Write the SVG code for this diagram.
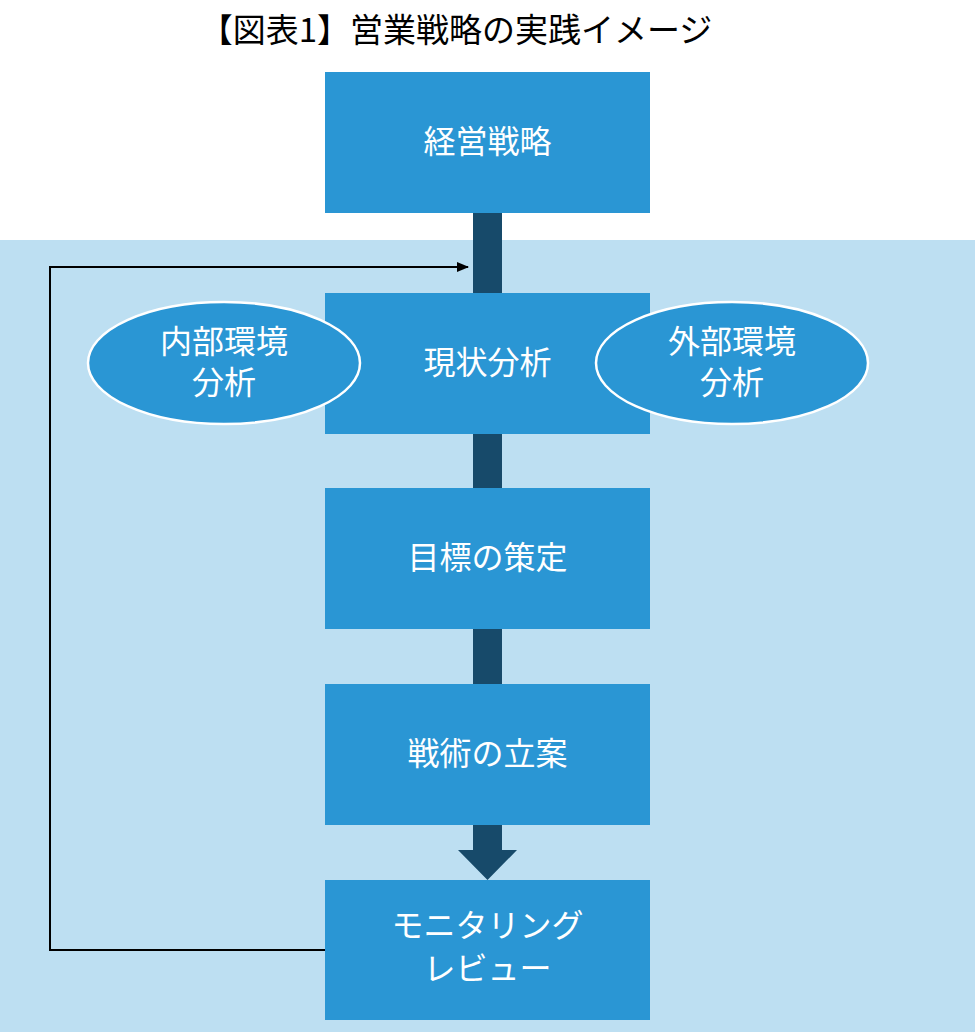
<svg xmlns="http://www.w3.org/2000/svg" width="975" height="1032" viewBox="0 0 975 1032">
<defs>
<style>
.box{fill:#2A96D4}
.bar{fill:#174A6A}
.lbl{font-family:"Noto Sans CJK JP","Noto Sans",sans-serif;font-size:32px;fill:#ffffff;text-anchor:middle}
.ell{fill:#2A96D4;stroke:#ffffff;stroke-width:2.5}
.title{font-family:"Noto Sans CJK JP","Noto Sans",sans-serif;font-size:33px;fill:#000000;text-anchor:middle}
</style>
<marker id="ah" markerWidth="12" markerHeight="10" refX="11" refY="5" orient="auto" markerUnits="userSpaceOnUse">
<path d="M0,0 L12,5 L0,10 Z" fill="#000"/>
</marker>
</defs>
<rect x="0" y="0" width="975" height="1032" fill="#ffffff"/>
<rect x="0" y="240" width="975" height="792" fill="#BDDFF2"/>
<text class="title" x="456" y="42">【図表1】営業戦略の実践イメージ</text>
<g id="connectors">
<rect class="bar" x="473" y="213" width="29" height="80"/>
<rect class="bar" x="473" y="434" width="29" height="54"/>
<rect class="bar" x="473" y="629" width="29" height="55"/>
<path class="bar" d="M473,825 H502 V850 H517 L487.5,880 L458,850 H473 Z"/>
<path d="M325,950 H50 V267 H468" fill="none" stroke="#000" stroke-width="2" marker-end="url(#ah)"/>
</g>
<g id="n1"><rect class="box" x="325" y="72" width="325" height="141"/><text class="lbl" x="487.5" y="153">経営戦略</text></g>
<g id="n2"><rect class="box" x="325" y="293" width="325" height="141"/><text class="lbl" x="487.5" y="374">現状分析</text></g>
<g id="n3"><rect class="box" x="325" y="488" width="325" height="141"/><text class="lbl" x="487.5" y="569">目標の策定</text></g>
<g id="n4"><rect class="box" x="325" y="684" width="325" height="141"/><text class="lbl" x="487.5" y="765">戦術の立案</text></g>
<g id="n5"><rect class="box" x="325" y="880" width="325" height="140"/><text class="lbl" x="487.5" y="937">モニタリング</text><text class="lbl" x="487.5" y="980">レビュー</text></g>
<g id="e1"><ellipse class="ell" cx="224" cy="363" rx="136" ry="61"/><text class="lbl" x="224" y="353">内部環境</text><text class="lbl" x="224" y="394">分析</text></g>
<g id="e2"><ellipse class="ell" cx="732" cy="363" rx="136" ry="61"/><text class="lbl" x="732" y="353">外部環境</text><text class="lbl" x="732" y="394">分析</text></g>
</svg>
